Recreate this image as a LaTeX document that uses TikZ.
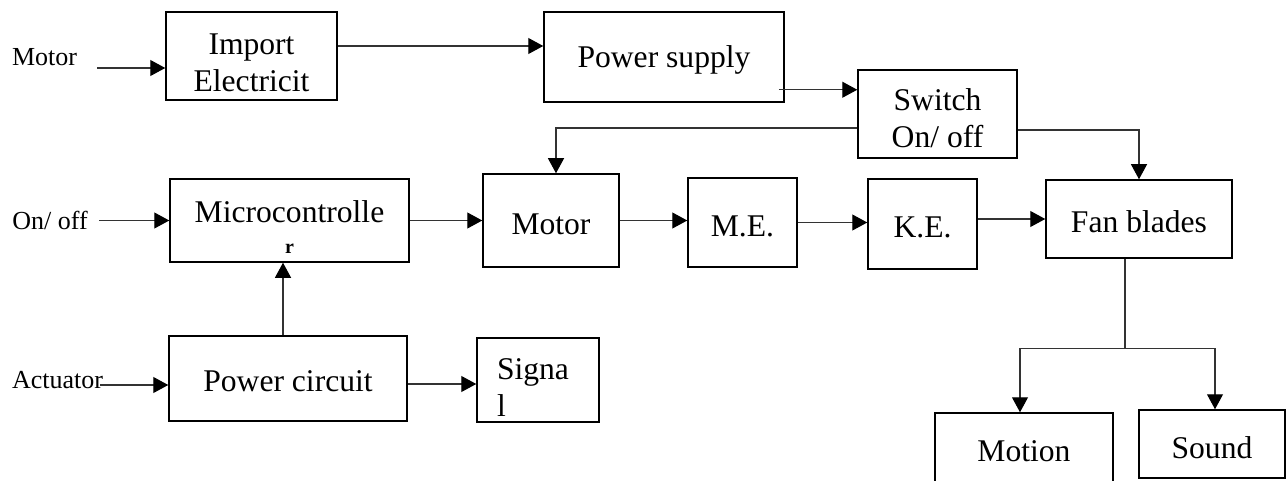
\documentclass[tikz,border=0pt]{standalone}
\usepackage{fontspec}
\setmainfont{Liberation Serif}
\usetikzlibrary{arrows.meta}

\begin{document}
\begin{tikzpicture}[
    x=1pt, y=1pt,
    font=\fontsize{15.8}{18.5}\selectfont,
    lift/.style={execute at begin node={\rule{0pt}{#1}}},
    stage/.style={draw, line width=0.75pt, align=center, inner sep=2pt},
    tag/.style={font=\fontsize{13}{15}\selectfont, inner sep=0pt},
    wire/.style={line width=0.55pt, draw=black!80},
    link/.style={wire, -{Triangle[length=7.5pt, width=8pt, color=black]}}
]
\useasboundingbox[fill=white] (0,0) rectangle (643,-240.5);

\node[stage, minimum width=85.5pt, minimum height=44pt] (imp) at (125.75,-28) {\rule{0pt}{17.3pt}Import\\Electricit};
\node[stage, lift=14pt, minimum width=120pt, minimum height=45pt] (psu) at (332,-28.5) {Power supply};
\node[stage, minimum width=79.5pt, minimum height=44pt] (sw) at (468.75,-57) {\rule{0pt}{15pt}Switch\\On/ off};

\node[stage, minimum width=119.5pt, minimum height=41.5pt] (mcu) at (144.75,-110.25) {\rule{0pt}{17pt}Microcontrolle\\[-3pt]{\fontsize{10}{12}\selectfont\bfseries r}};
\node[stage, lift=14pt, minimum width=68pt, minimum height=46.5pt] (mot) at (275.5,-110.25) {Motor};
\node[stage, lift=14pt, minimum width=54.5pt, minimum height=44.5pt] (me) at (371.25,-111.25) {M.E.};
\node[stage, lift=14pt, minimum width=54.5pt, minimum height=45pt] (ke) at (461.25,-112) {K.E.};
\node[stage, lift=14pt, minimum width=93pt, minimum height=39pt] (fan) at (569.5,-109.5) {Fan blades};

\node[stage, lift=13pt, minimum width=119pt, minimum height=42.5pt] (pwc) at (144,-189.25) {Power circuit};
\node[stage, lift=18pt, minimum width=61pt, minimum height=42pt, text width=41pt, align=left, inner sep=0pt] (sig) at (269,-190) {Signa\\l};
\node[stage, minimum width=89pt, minimum height=38.5pt] (mtn) at (512,-225.75) {Motion};
\node[stage, lift=14.8pt, minimum width=73pt, minimum height=34pt] (snd) at (606,-222) {Sound};

\node[tag] (lmot) at (22.25,-28.75) {Motor};
\node[tag] (lon) at (25,-110.25) {On/ off};
\node[tag] (lact) at (28.75,-190) {Actuator};

\coordinate (motin) at (48.5,-34);
\draw[link] (motin) -- (motin -| imp.west);
\draw[link] ([xshift=5.5pt]lon.east) -- (mcu.west);
\coordinate (actin) at (50,-192.5);
\draw[link] (actin) -- (actin -| pwc.west);

\coordinate (impout) at ([yshift=5pt]imp.east);
\draw[link] (impout) -- (impout -| psu.west);
\coordinate (psuout) at ([shift={(-3pt,6.5pt)}]psu.south east);
\draw[link] (psuout) -- (psuout -| sw.west);
\draw[link] ([yshift=-7pt]sw.west) -| ([xshift=2.5pt]mot.north);
\draw[link] ([yshift=-8pt]sw.east) -| (fan.north);

\draw[link] (mcu) -- (mot);
\draw[link] (mot.east) -- (mot.east -| me.west);
\draw[link] (me.east) -- (me.east -| ke.west);
\draw[link] (fan.west -| ke.east) -- (fan.west);

\draw[link] ([xshift=-2.5pt]pwc.north) -- ([xshift=-3.25pt]mcu.south);
\coordinate (pwcout) at ([yshift=-2.75pt]pwc.east);
\draw[link] (pwcout) -- (pwcout -| sig.west);
\draw[wire] ([xshift=-7pt]fan.south) -- ++(0,-45) coordinate (fork);
\draw[link] (fork) -| ([xshift=-2pt]mtn.north);
\draw[link] (fork) -| ([xshift=1.5pt]snd.north);
\end{tikzpicture}
\end{document}
